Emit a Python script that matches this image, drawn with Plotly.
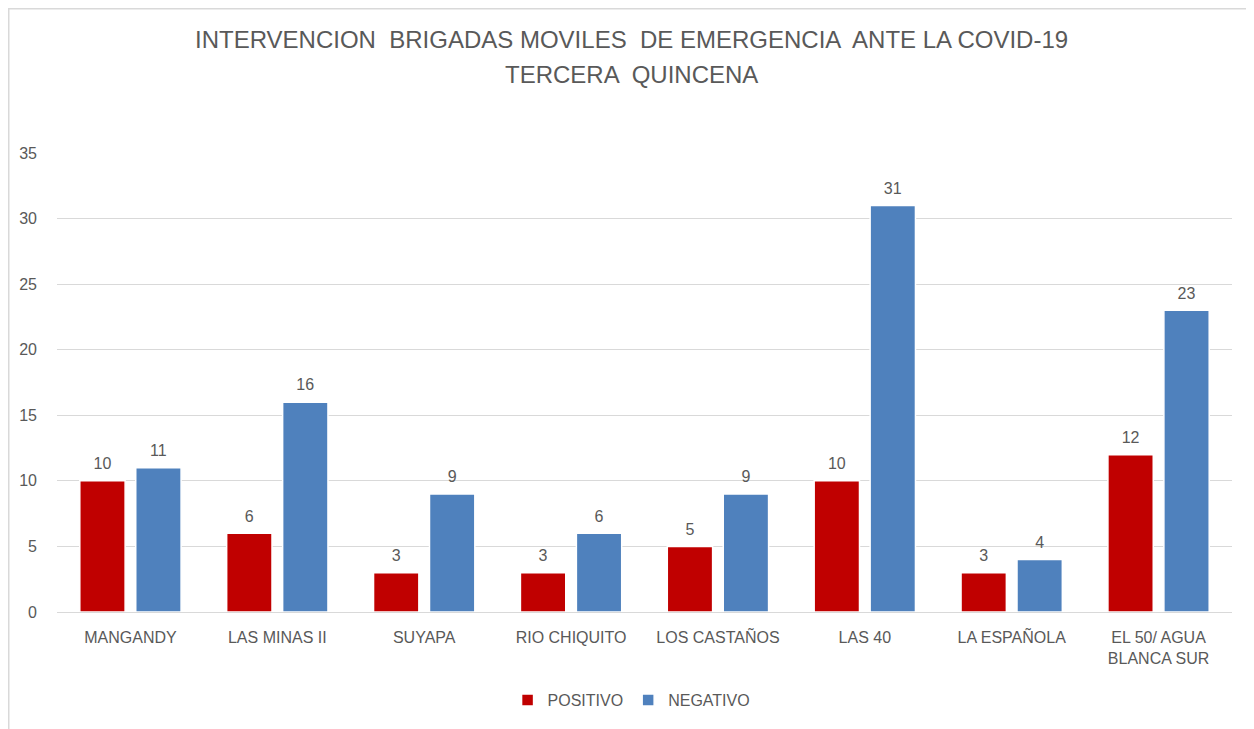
import plotly.graph_objects as go

categories = ["MANGANDY", "LAS MINAS II", "SUYAPA", "RIO CHIQUITO", "LOS CASTAÑOS",
              "LAS 40", "LA ESPAÑOLA", "EL 50/ AGUA<br>BLANCA SUR"]
positivo = [10, 6, 3, 3, 5, 10, 3, 12]
negativo = [11, 16, 9, 6, 9, 31, 4, 23]
y_ticks = [0, 5, 10, 15, 20, 25, 30, 35]
title_lines = ["INTERVENCION  BRIGADAS MOVILES  DE EMERGENCIA  ANTE LA COVID-19",
               "TERCERA  QUINCENA"]

FONT = "Liberation Sans, Arial, sans-serif"
GRAY = "#595959"

W, H = 1246, 721
L, R, T, B = 49, 22, 145, 117
PH = H - T - B
PW = W - L - R

fig = go.Figure()
for name, vals, color in [("POSITIVO", positivo, "#C00000"), ("NEGATIVO", negativo, "#4F81BD")]:
    fig.add_trace(go.Bar(
        name=name, x=categories, y=vals,
        marker=dict(color=color, line=dict(color="white", width=1.5)),
        text=vals, texttemplate="<span style='font-size:16px'>%{text}</span><br> ",
        textposition="outside", cliponaxis=False, constraintext="none",
        textfont=dict(size=6, color=GRAY, family=FONT),
    ))

fig.update_layout(
    width=W, height=H,
    margin=dict(l=L, r=R, t=T, b=B),
    paper_bgcolor="white", plot_bgcolor="white",
    barmode="group", bargap=0.238, bargroupgap=0.19,
    xaxis=dict(
        showgrid=False, showline=True, linecolor="#D9D9D9", linewidth=1,
        ticks="", tickfont=dict(size=16, color=GRAY, family=FONT),
        ticklabelstandoff=11,
    ),
    yaxis=dict(
        range=[0, 35], tickvals=y_ticks, showgrid=True, gridcolor="#D9D9D9",
        gridwidth=1, zeroline=False, showline=False, ticks="",
        tickfont=dict(size=16, color=GRAY, family=FONT), ticklabelstandoff=19,
    ),
    legend=dict(
        orientation="h", x=0.489, xanchor="center", y=(604 - 692) / PH, yanchor="middle",
        font=dict(size=16, color=GRAY, family=FONT),
        itemwidth=30, traceorder="normal",
    ),
)

for line, py in zip(title_lines, [32, 66]):
    fig.add_annotation(text=line, xref="paper", yref="paper",
                       x=(W / 2 - L) / PW, y=(T + PH - py) / PH,
                       xanchor="center", yanchor="middle", showarrow=False,
                       font=dict(size=24, color=GRAY, family=FONT))

fig.add_shape(type="rect", xref="paper", yref="paper",
              x0=(0.75 - L) / PW, x1=(1243 - L) / PW,
              y0=(T + PH - 760) / PH, y1=(T + PH - 0.75) / PH,
              line=dict(color="#D9D9D9", width=1.5), fillcolor="rgba(0,0,0,0)",
              layer="below")

fig.write_html("out.html")
